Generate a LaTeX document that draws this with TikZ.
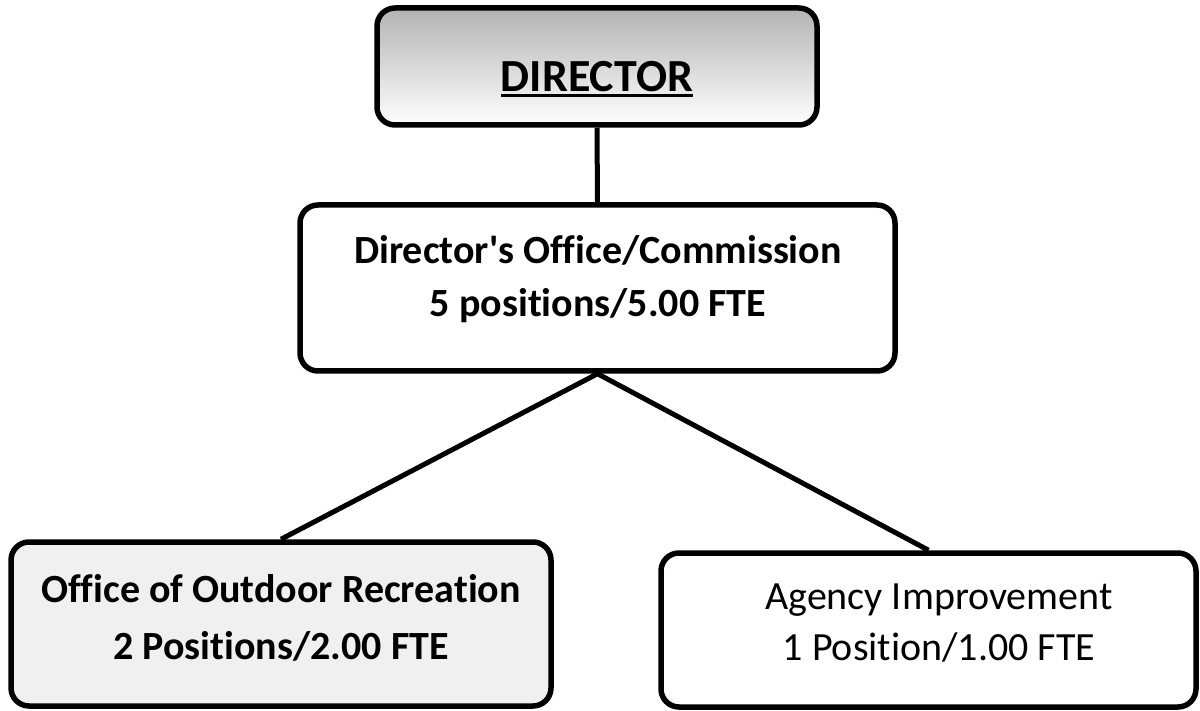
\documentclass[tikz,border=0pt]{standalone}
\usepackage{fontspec}
\setmainfont{Carlito}[Ligatures=NoCommon]
% underlined word with a heavier rule
\newcommand\ulword[1]{\setbox0\hbox{#1}\rlap{\rule[-5pt]{\wd0}{2.8pt}}\box0}
\begin{document}
\begin{tikzpicture}[x=1pt,y=-1pt,
  box/.style={draw=black, line width=5.5pt, rounded corners=18pt, inner sep=0pt},
  conn/.style={draw=black, line width=5pt, line join=miter},
  boldline/.style={font=\fontsize{40}{48}\selectfont\bfseries, anchor=base, inner sep=0pt},
  plainline/.style={font=\fontsize{40}{48}\selectfont, anchor=base, inner sep=0pt},
  headline/.style={font=\fontsize{46}{52}\selectfont\bfseries, anchor=base, inner sep=0pt}]
\useasboundingbox (0,0) rectangle (1200,711);

% boxes
\node[box, minimum width=440pt, minimum height=117pt,
      top color=gray!60, middle color=gray!16, bottom color=white] (dir) at (597,66.5) {};
\node[box, minimum width=595pt, minimum height=166pt,
      top color=white, middle color=gray!20, bottom color=white] (mid) at (597.5,288) {};
\node[box, minimum width=540pt, minimum height=164pt, fill=gray!12] (left) at (281,624) {};
\node[box, minimum width=535pt, minimum height=154pt, fill=white] (right) at (928.5,630) {};

% connectors
\draw[conn] (dir.south) -- (mid.north);
\draw[conn] (left.north) -- (mid.south) -- (right.north);

% labels
\node[headline] (dirtxt) at (597,92) {\ulword{DIRECTOR}};
\node[boldline] (mid1) at (598,264) {Director\textquotesingle s Office/Commission};
\node[boldline] (mid2) at (598,317) {5 positions/5.00 FTE};
\node[boldline] (left1) at (281,602) {Office of Outdoor Recreation};
\node[boldline] (left2) at (281,659) {2 Positions/2.00 FTE};
\node[plainline] (right1) at (939,609) {Agency Improvement};
\node[plainline] (right2) at (939,660) {1 Position/1.00 FTE};
\end{tikzpicture}
\end{document}
